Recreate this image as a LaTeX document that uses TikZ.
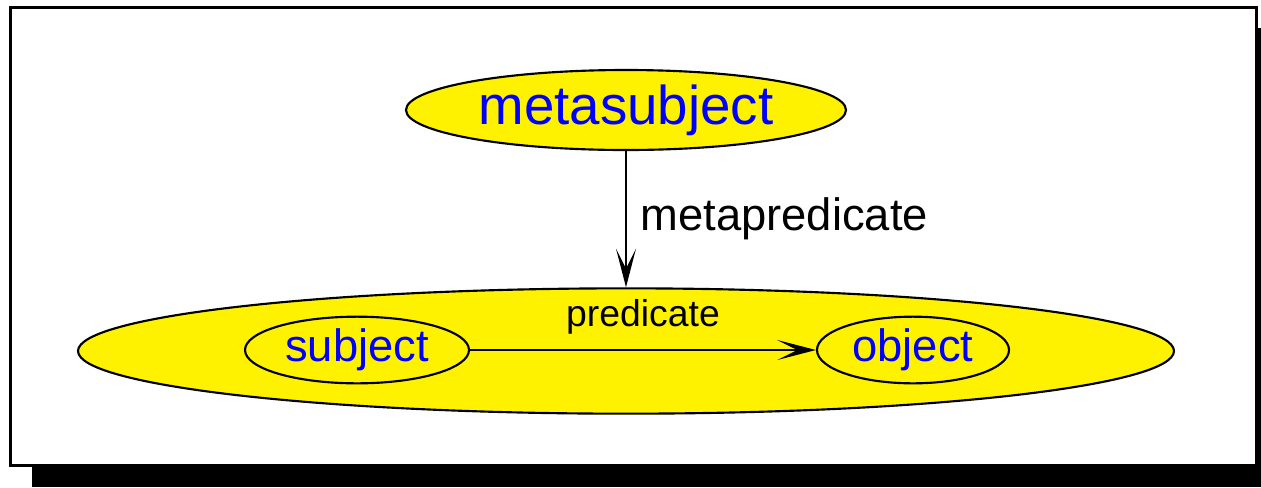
\documentclass[tikz,border=0pt]{standalone}
\usepackage{fontspec}
\setmainfont{Liberation Sans}
\usepackage{xcolor}
\usetikzlibrary{arrows.meta, positioning, shapes.geometric}
\definecolor{metayellow}{HTML}{FFF200}
\definecolor{metablue}{HTML}{0000FF}

\begin{document}
\begin{tikzpicture}[x=0.75pt, y=-0.75pt,
          blob/.style={draw, ellipse, fill=metayellow, line width=1.6pt,
                       inner sep=0pt, text=metablue},
          arr/.style={-{Stealth[length=29pt, width=15pt, inset=15pt]}, line width=1.3pt},
        ]
        \useasboundingbox (0,0) rectangle (1261,487);
        % frame with drop shadow
        \fill[black] (32,28) rectangle (1261,487);
        \draw[line width=2.3pt, fill=white] (10.5,7.5) rectangle (1256.5,465.5);

        \node[blob, minimum width=330pt, minimum height=60pt,
              font=\fontsize{41}{41}\selectfont]
              (meta) at (626,110) {metasubject};
        \node[blob, minimum width=822pt, minimum height=94pt]
              (stmt) at (626,351) {};
        \node[blob, minimum width=168pt, minimum height=50pt,
              font=\fontsize{34}{34}\selectfont]
              (subj) at (357,350) {subject};
        \node[blob, minimum width=144pt, minimum height=50pt,
              font=\fontsize{34}{34}\selectfont]
              (obj) at (913,350) {object};

        \draw[arr] (meta.south) -- (stmt.north)
              node[midway, right=7pt, font=\fontsize{34}{34}\selectfont] {metapredicate};
        \draw[arr] (subj.east) -- (obj.west)
              node[midway, above=8pt, font=\fontsize{28}{28}\selectfont] {predicate};
      \end{tikzpicture}
\end{document}
